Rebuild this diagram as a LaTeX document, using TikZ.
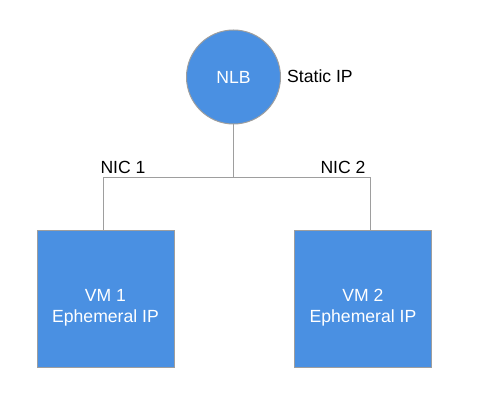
\documentclass[tikz,border=0pt]{standalone}
\usepackage{fontspec}
\setmainfont{Liberation Sans}
\usetikzlibrary{positioning, calc}

\definecolor{nodeblue}{HTML}{4A90E2}
\definecolor{wiregray}{HTML}{9E9E9E}

\begin{document}
\begin{tikzpicture}[
        x=1pt, y=1pt,
        every node/.style={font=\fontsize{17.6}{21}\selectfont},
        wire/.style={draw=wiregray, line width=1pt},
        lbcircle/.style={circle, fill=nodeblue, draw=wiregray, line width=1pt,
            minimum size=94, inner sep=0pt, text=white},
        vmbox/.style={rectangle, fill=nodeblue, draw=wiregray, line width=1pt,
            minimum size=137, inner sep=0pt},
        vmtext/.style={text=white, align=center, anchor=north, inner sep=0pt, yshift=-7.8},
    ]
    \useasboundingbox (0, 0) rectangle (485, 407);

    %% ---- Load balancer ----
    \node[lbcircle] (nlb) at (233.5, 330) {NLB};
    \node[anchor=base west, inner sep=0pt] (staticip) at (287, 324.3) {Static IP};

    %% ---- Backend VMs ----
    \node[vmbox, label={[vmtext]center:VM 1\\Ephemeral IP}] (vm1) at (105.5, 107.5) {};
    \node[vmbox, label={[vmtext]center:VM 2\\Ephemeral IP}] (vm2) at (363, 107.5) {};

    %% ---- Wiring ----
    \coordinate (split) at (233.5, 229.5);
    \draw[wire] (nlb.south) -- (split);
    \draw[wire] ([xshift=-2.5]vm1.north) |- (split) -| ([xshift=7]vm2.north);

    \node[anchor=base] (nic1) at (123, 233.7) {NIC 1};
    \node[anchor=base] (nic2) at (343, 233.7) {NIC 2};

\end{tikzpicture}
\end{document}
